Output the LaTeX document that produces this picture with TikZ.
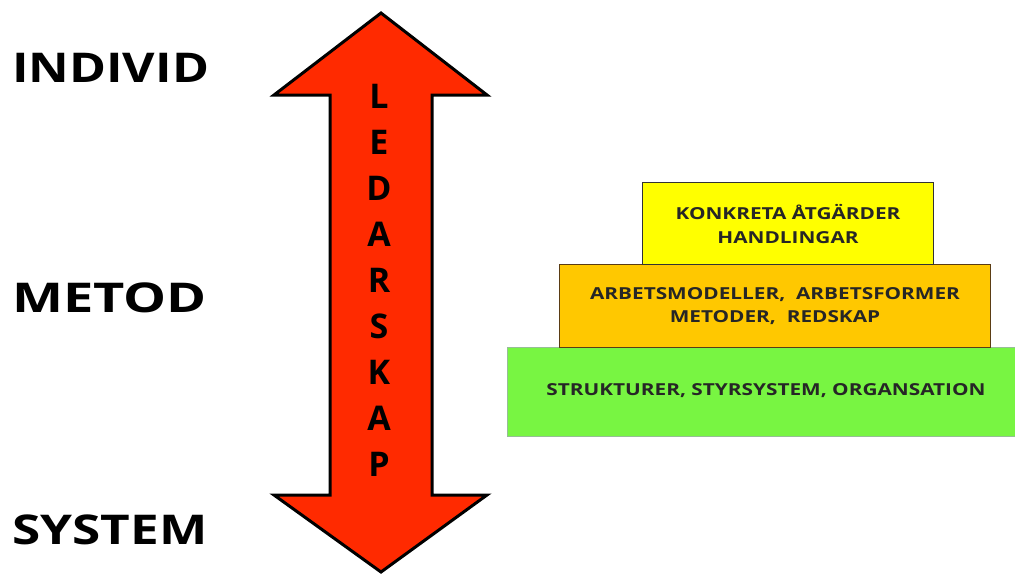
\documentclass[tikz,border=0pt]{standalone}
\usepackage{fontspec}
\setmainfont{Open Sans}
\definecolor{arrowred}{RGB}{255,42,0}
\definecolor{boxyellow}{RGB}{255,255,0}
\definecolor{boxorange}{RGB}{255,200,0}
\definecolor{boxgreen}{RGB}{120,245,66}
\definecolor{greenedge}{RGB}{150,190,150}
\definecolor{orangeedge}{RGB}{90,60,20}
\newcommand\bigstretch[2]{\scalebox{#1}[1]{#2}}
\newcommand\boxstretch[1]{\scalebox{1.26}[1]{#1}}
\tikzset{
  biglabel/.style={anchor=west, inner sep=0pt, font=\fontsize{41}{46}\selectfont\bfseries},
  arrowletter/.style={inner sep=0pt, font=\fontsize{34}{38}\selectfont\bfseries},
  boxtext/.style={inner sep=0pt, align=center,
    font=\fontsize{16.5}{23.5}\selectfont\bfseries, text=black!85},
  level/.style={draw, line width=1pt, inner sep=0pt}
}
\begin{document}
\begin{tikzpicture}[x=1pt,y=-1pt]
\useasboundingbox (0,0) rectangle (1015,574);
\fill[white] (0,0) rectangle (1015,574);
% left labels
\node[biglabel] (individ) at (12,68) {\bigstretch{1.22}{INDIVID}};
\node[biglabel] (metod) at (12,298) {\bigstretch{1.32}{METOD}};
\node[biglabel] (system) at (12,530) {\bigstretch{1.25}{SYSTEM}};
% double arrow
\draw[line width=3pt, line join=miter, fill=arrowred]
  (381,13) -- (487,95) -- (432,95) -- (432,495) -- (487,495) -- (381,572)
  -- (274,495) -- (330,495) -- (330,95) -- (274,95) -- cycle;
\foreach \l [count=\i] in {L,E,D,A,R,S,K,A,P}{
  \node[arrowletter] (let\i) at (379,{50+46*\i}) {\l};
}
% levels
\node[level, fill=boxgreen, draw=greenedge, minimum width=510pt, minimum height=89pt] (green) at (762,391.5) {};
\node[boxtext] (greentext) at (766,391) {\boxstretch{STRUKTURER, STYRSYSTEM, ORGANSATION}};
\node[level, fill=boxorange, draw=orangeedge, minimum width=431pt, minimum height=83pt] (orange) at (774.5,305.5) {};
\node[boxtext] (orangetext) at (775,306) {\boxstretch{ARBETSMODELLER,\ \ ARBETSFORMER}\\\boxstretch{METODER,\ \ REDSKAP}};
\node[level, fill=boxyellow, draw=black!80, minimum width=291pt, minimum height=82pt] (yellow) at (787.5,223) {};
\node[boxtext] (yellowtext) at (788,224) {\boxstretch{KONKRETA ÅTGÄRDER}\\\boxstretch{HANDLINGAR}};
\end{tikzpicture}
\end{document}
